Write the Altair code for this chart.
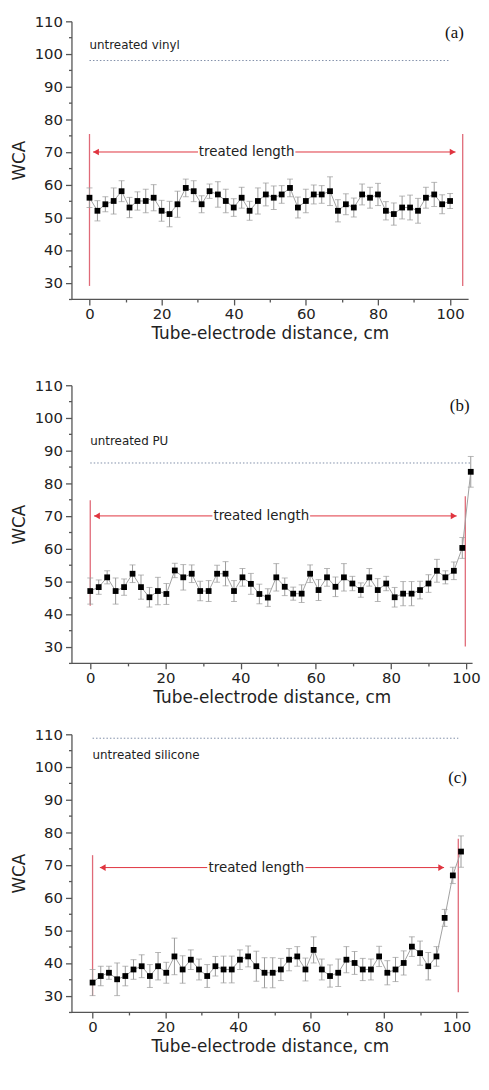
import altair as alt
import pandas as pd

# ---------------- data ----------------
X_A = [0, 2.2, 4.4, 6.7, 8.9, 11.1, 13.3, 15.6, 17.8, 20.0, 22.2, 24.4, 26.7, 28.9, 31.1,
       33.3, 35.6, 37.8, 40.0, 42.2, 44.4, 46.7, 48.9, 51.1, 53.3, 55.6, 57.8, 60.0, 62.2,
       64.4, 66.7, 68.9, 71.1, 73.3, 75.6, 77.8, 80.0, 82.2, 84.4, 86.7, 88.9, 91.1, 93.3,
       95.6, 97.8, 100.0]
WCA_A = [56, 52, 54, 55, 58, 53, 55, 55, 56, 52, 51, 54, 59, 58, 54, 58, 57, 55, 53, 56,
         52, 55, 57, 56, 57, 59, 53, 55, 57, 57, 58, 52, 54, 53, 57, 56, 57, 52, 51, 53,
         53, 52, 56, 57, 54, 55]
ERR_A = [3.0, 3.1, 2.3, 4.0, 3.2, 3.1, 2.8, 3.6, 4.0, 3.2, 3.9, 4.0, 2.7, 3.2, 2.6, 2.2,
         3.9, 3.6, 2.7, 3.2, 2.9, 4.0, 3.5, 3.6, 2.7, 2.7, 3.2, 3.6, 2.9, 2.7, 4.4, 3.4,
         3.2, 2.9, 3.2, 3.2, 3.4, 2.8, 3.4, 3.5, 3.8, 3.8, 3.2, 3.7, 2.9, 2.3]

X_BC = [0, 2.25, 4.5, 6.75, 9, 11.25, 13.5, 15.75, 18, 20.25, 22.5, 24.75, 27, 29.25, 31.5,
        33.75, 36, 38.25, 40.5, 42.75, 45, 47.25, 49.5, 51.75, 54, 56.25, 58.5, 60.75, 63,
        65.25, 67.5, 69.75, 72, 74.25, 76.5, 78.75, 81, 83.25, 85.5, 87.75, 90, 92.25, 94.5,
        96.75, 99, 101.25]
WCA_B = [47.0, 48.2, 51.2, 47.0, 48.2, 52.3, 48.2, 45.1, 47.0, 46.1, 53.3, 51.2, 52.3, 47.0,
         47.0, 52.3, 52.3, 47.0, 51.2, 49.2, 46.1, 45.0, 51.2, 48.3, 46.2, 46.2, 52.3, 47.3,
         51.2, 48.3, 51.2, 49.3, 47.3, 51.2, 47.3, 49.3, 45.1, 46.2, 46.2, 47.3, 49.3, 53.2,
         51.2, 53.2, 60.2, 83.5]
ERR_B = [4.0, 2.2, 2.0, 4.0, 2.5, 2.7, 3.7, 3.0, 4.2, 3.2, 2.2, 3.9, 2.7, 3.0, 3.2, 2.6,
         3.7, 3.2, 2.7, 3.2, 3.0, 2.7, 4.2, 2.7, 2.0, 2.7, 2.7, 3.2, 2.7, 3.0, 4.2, 2.2,
         2.2, 2.7, 3.5, 2.2, 3.0, 3.7, 3.7, 2.7, 2.7, 3.5, 2.0, 2.7, 3.2, 4.7]
WCA_C = [34, 36, 37, 35, 36, 38, 39, 36, 39, 37, 42, 38, 41, 38, 36, 39, 38, 38, 41, 42, 39,
         37, 37, 38, 41, 42, 38, 44, 38, 36, 37, 41, 40, 38, 38, 42, 37, 38, 40, 45, 43, 39,
         42, 53.8, 66.8, 74.1]
ERR_C = [4.0, 3.0, 2.0, 5.0, 3.0, 3.0, 3.5, 3.5, 4.2, 3.2, 5.6, 4.2, 3.0, 3.2, 3.5, 3.0,
         4.1, 4.1, 3.0, 3.2, 4.6, 4.6, 4.6, 3.4, 3.4, 3.0, 3.5, 4.0, 3.2, 3.4, 4.2, 4.0,
         3.5, 3.4, 3.2, 3.1, 3.7, 3.7, 3.7, 3.0, 3.7, 4.2, 3.0, 2.6, 2.5, 4.8]

X_TICKS = [0, 10, 20, 30, 40, 50, 60, 70, 80, 90, 100]
Y_TICKS = [25, 30, 35, 40, 45, 50, 55, 60, 65, 70, 75, 80, 85, 90, 95, 100, 105, 110]
X_TITLE = "Tube-electrode distance, cm"
Y_TITLE = "WCA"
TREATED = "treated length"

# annotation settings per panel (data coordinates)
PANELS = [
    dict(x=X_A, y=WCA_A, e=ERR_A, xdom=[-5, 105], width=400,
         untreated="untreated vinyl", u_line=98, u_text=102.8, u_x2=100,
         letter="(a)", lx=101.2, ly=106.4,
         arr_y=70, arr_x0=1.0, arr_x1=101.5, tx=43.6, gap=13.5,
         vl=(0, 29, 75.5), vr=(103.5, 29, 75.5)),
    dict(x=X_BC, y=WCA_B, e=ERR_B, xdom=[-5, 101.6], width=404,
         untreated="untreated PU", u_line=86.2, u_text=92.9, u_x2=101.5,
         letter="(b)", lx=98.3, ly=103.7,
         arr_y=70, arr_x0=1.0, arr_x1=97.5, tx=45.5, gap=13.0,
         vl=(0, 42.5, 74.8), vr=(99.8, 30, 76)),
    dict(x=X_BC, y=WCA_C, e=ERR_C, xdom=[-5.8, 103.2], width=400,
         untreated="untreated silicone", u_line=108.8, u_text=103.6, u_x2=100.5,
         letter="(c)", lx=100.3, ly=96.7,
         arr_y=69.2, arr_x0=2.0, arr_x1=96.6, tx=45.0, gap=13.5,
         vl=(0, 30, 73), vr=(100.5, 31, 78)),
]

FONT = "DejaVu Sans"
AXC = "#555555"
TXT = "#222222"
RED = "#e0343f"
PINK = "#e06a78"
GRAY = "#9a9a9a"
HEIGHT = 280


def panel(p):
    xs = alt.Scale(domain=p["xdom"], nice=False, zero=False)
    ys = alt.Scale(domain=[25, 110], nice=False, zero=False)
    xaxis = alt.Axis(values=X_TICKS, labelExpr="datum.value % 20 === 0 ? datum.label : ''",
                     tickSize={"condition": {"test": "datum.value % 20 === 0", "value": 6}, "value": 3},
                     grid=False, domainColor=AXC, tickColor=AXC, domainWidth=1.3, tickWidth=1.3,
                     labelFont=FONT, labelFontSize=15, labelColor=TXT, labelPadding=2,
                     titleFont=FONT, titleFontSize=17, titleFontWeight="normal", titleColor=TXT,
                     titlePadding=4)
    yaxis = alt.Axis(values=Y_TICKS, labelExpr="datum.value % 10 === 0 ? datum.label : ''",
                     tickSize={"condition": {"test": "datum.value % 10 === 0", "value": 6}, "value": 3},
                     grid=False, domainColor=AXC, tickColor=AXC, domainWidth=1.3, tickWidth=1.3,
                     labelFont=FONT, labelFontSize=15, labelColor=TXT, labelPadding=3,
                     titleFont=FONT, titleFontSize=17, titleFontWeight="normal", titleColor=TXT,
                     titlePadding=6)

    def X(f):
        return alt.X(f, type="quantitative", scale=xs, axis=xaxis, title=X_TITLE)

    def Y(f):
        return alt.Y(f, type="quantitative", scale=ys, axis=yaxis, title=Y_TITLE)

    d = pd.DataFrame({"x": p["x"], "y": p["y"], "e": p["e"]})
    d["lo"] = d["y"] - d["e"]
    d["hi"] = d["y"] + d["e"]
    caps = pd.concat([pd.DataFrame({"x": d["x"], "y": d["lo"]}),
                      pd.DataFrame({"x": d["x"], "y": d["hi"]})])

    vl = pd.DataFrame({"x": [p["vl"][0], p["vr"][0]], "y": [p["vl"][1], p["vr"][1]],
                       "y2": [p["vl"][2], p["vr"][2]]})
    dot = pd.DataFrame({"x": [0], "x2": [p["u_x2"]], "y": [p["u_line"]]})
    seg = pd.DataFrame({"x": [p["arr_x0"], p["tx"] + p["gap"]],
                        "x2": [p["tx"] - p["gap"], p["arr_x1"]],
                        "y": [p["arr_y"], p["arr_y"]]})
    heads = pd.DataFrame({"x": [p["arr_x0"] + 0.8, p["arr_x1"] - 0.8], "y": [p["arr_y"]] * 2,
                          "s": ["triangle-left", "triangle-right"]})
    tl = pd.DataFrame({"x": [p["tx"]], "y": [p["arr_y"]], "t": [TREATED]})
    ut = pd.DataFrame({"x": [0], "y": [p["u_text"]], "t": [p["untreated"]]})
    lt = pd.DataFrame({"x": [p["lx"]], "y": [p["ly"]], "t": [p["letter"]]})

    layers = [
        alt.Chart(vl).mark_rule(color=PINK, strokeWidth=1.3).encode(x=X("x"), y=Y("y"), y2="y2"),
        alt.Chart(dot).mark_rule(color="#7f8ea8", strokeWidth=1, strokeDash=[1.5, 2]).encode(
            x=X("x"), x2="x2", y=Y("y")),
        alt.Chart(seg).mark_rule(color=RED, strokeWidth=1).encode(x=X("x"), x2="x2", y=Y("y")),
        alt.Chart(heads).mark_point(filled=True, color=RED, size=45, opacity=1).encode(
            x=X("x"), y=Y("y"), shape=alt.Shape("s:N", scale=None, legend=None)),
        alt.Chart(tl).mark_text(font=FONT, fontSize=13.5, color=TXT, align="center",
                                baseline="middle").encode(x=X("x"), y=Y("y"), text="t:N"),
        alt.Chart(ut).mark_text(font=FONT, fontSize=12, color=TXT, align="left",
                                baseline="middle").encode(x=X("x"), y=Y("y"), text="t:N"),
        alt.Chart(lt).mark_text(font="Liberation Serif", fontSize=17, color="#111", align="center",
                                baseline="middle").encode(x=X("x"), y=Y("y"), text="t:N"),
        alt.Chart(d).mark_rule(color=GRAY, strokeWidth=1).encode(x=X("x"), y=Y("lo"), y2="hi"),
        alt.Chart(caps).mark_tick(color=GRAY, orient="horizontal", size=6, thickness=1).encode(
            x=X("x"), y=Y("y")),
        alt.Chart(d).mark_line(color="#a0a0a0", strokeWidth=1).encode(x=X("x"), y=Y("y")),
        alt.Chart(d).mark_square(color="black", size=34, filled=True, opacity=1).encode(
            x=X("x"), y=Y("y")),
    ]
    return alt.layer(*layers).properties(width=p["width"], height=HEIGHT)


pa, pb, pc = [panel(p) for p in PANELS]
top = alt.vconcat(pa, pb, spacing=37)
chart = alt.vconcat(top, pc, spacing=22).properties(
    padding={"left": 2, "top": 2, "right": 0, "bottom": 0}
).configure_view(stroke=None)

chart.save("out.html", embed_options={"renderer": "svg", "actions": False})
